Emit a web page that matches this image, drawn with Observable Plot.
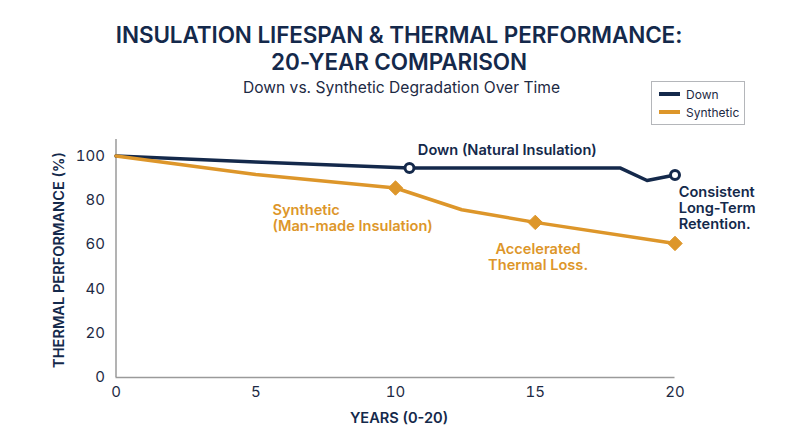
<!DOCTYPE html>
<html><head><meta charset="utf-8">
<script src="https://cdn.jsdelivr.net/npm/d3@7"></script>
<script src="https://cdn.jsdelivr.net/npm/@observablehq/plot@0.6"></script>
<style>
html,body{margin:0;padding:0;background:#fff;}
body{width:800px;height:447px;overflow:hidden;position:relative;font-family:Inter,"Noto Sans",sans-serif;color:#14294b;}
#head{height:130px;position:relative;}
#title{position:absolute;left:-1px;width:800px;top:21px;text-align:center;font-size:22.5px;line-height:27px;font-weight:600;letter-spacing:-.1px;}
#sub{position:absolute;left:0;width:803px;top:78px;text-align:center;font-size:15.6px;line-height:20px;color:#1d2a44;}
#legend{position:absolute;left:651px;top:81px;width:92px;height:42px;border:1px solid #b4b6ba;font-size:12px;color:#1d2a44;}
.row{position:absolute;left:7px;display:flex;align-items:center;height:18px;}
.sw{width:21px;height:4px;margin-right:6px;}
svg{display:block;}
</style></head><body>
<div id="head">
<div id="title">INSULATION LIFESPAN &amp; THERMAL PERFORMANCE:<br>20-YEAR COMPARISON</div>
<div id="sub">Down vs. Synthetic Degradation Over Time</div>
<div id="legend"></div>
</div>
<div id="chart"></div>
<script>
const navy = "#14294b", gold = "#dd962a", axisGray = "#9a9a9a", tickInk = "#1d2a44";
const downYears = [0, 5, 10.5, 18.05, 19, 20];
const downValues = [100, 97.2, 94.5, 94.5, 88.9, 91.4];
const synthYears = [0, 5, 10, 12.37, 15, 20];
const synthValues = [100, 91.6, 85.5, 75.7, 70, 60.5];
const downMarkerYears = [10.5, 20];
const downMarkerValues = [94.5, 91.4];
const synthMarkerYears = [10, 15, 20];
const synthMarkerValues = [85.5, 70, 60.5];
const xTicks = [0, 5, 10, 15, 20];
const yTicks = [0, 20, 40, 60, 80, 100];
const legendNames = ["Down", "Synthetic"];
const legendColors = [navy, gold];

const zip = (a, b) => a.map((x, i) => ({x, y: b[i]}));
const startNotes = [
  {x: 10.8, y: 102.7, t: "Down (Natural Insulation)", c: navy},
  {x: 20.13, y: 76.6, t: "Consistent\nLong-Term\nRetention.", c: navy},
  {x: 5.6, y: 72.2, t: "Synthetic\n(Man-made Insulation)", c: gold}
];
const middleNotes = [
  {x: 15.1, y: 54.5, t: "Accelerated\nThermal Loss.", c: gold}
];
const noteStyle = {x: "x", y: "y", text: "t", fill: "c", fontSize: 14.6, fontWeight: 600, lineHeight: 1.12};
const plot = Plot.plot({
  width: 800, height: 317,
  marginLeft: 115.5, marginRight: 125.5, marginTop: 9, marginBottom: 70,
  x: {domain: [0, 20]},
  y: {domain: [0, 107.4]},
  style: {background: "#fff", fontFamily: "Inter, 'Noto Sans', sans-serif", overflow: "visible"},
  marks: [
    Plot.ruleX([0], {stroke: axisGray, strokeWidth: 1.5}),
    Plot.ruleY([0], {stroke: axisGray, strokeWidth: 1.5}),
    Plot.axisX({ticks: xTicks, tickSize: 0, tickPadding: 9, label: null, fontSize: 15, color: tickInk, tickFormat: d => d}),
    Plot.axisY({ticks: yTicks, tickSize: 0, tickPadding: 11, label: null, fontSize: 15, color: tickInk, tickFormat: d => d}),
    Plot.text(["THERMAL PERFORMANCE (%)"], {frameAnchor: "left", textAnchor: "middle", rotate: -90, dx: -57, dy: 1.5, fontSize: 14.6, fontWeight: 600, fill: navy}),
    Plot.text(["YEARS (0-20)"], {frameAnchor: "bottom", dx: 3.5, dy: 45, fontSize: 14.6, fontWeight: 600, fill: navy}),
    Plot.line(zip(downYears, downValues), {x: "x", y: "y", stroke: navy, strokeWidth: 3.5}),
    Plot.line(zip(synthYears, synthValues), {x: "x", y: "y", stroke: gold, strokeWidth: 3.5}),
    Plot.dot(zip(downMarkerYears, downMarkerValues), {x: "x", y: "y", r: 4.5, fill: "#fff", stroke: navy, strokeWidth: 3}),
    Plot.dot(zip(synthMarkerYears, synthMarkerValues), {x: "x", y: "y", symbol: "diamond2", r: 6.5, fill: gold, stroke: gold, strokeWidth: 1}),
    Plot.text(startNotes, {...noteStyle, textAnchor: "start"}),
    Plot.text(middleNotes, {...noteStyle, textAnchor: "middle"})
  ]
});
document.getElementById("chart").appendChild(plot);
const legend = document.getElementById("legend");
legendNames.forEach((n, i) => {
  const r = document.createElement("div");
  r.className = "row";
  r.style.top = (3 + i * 18) + "px";
  r.innerHTML = `<span class="sw" style="background:${legendColors[i]}"></span><span>${n}</span>`;
  legend.appendChild(r);
});
</script>
</body></html>
